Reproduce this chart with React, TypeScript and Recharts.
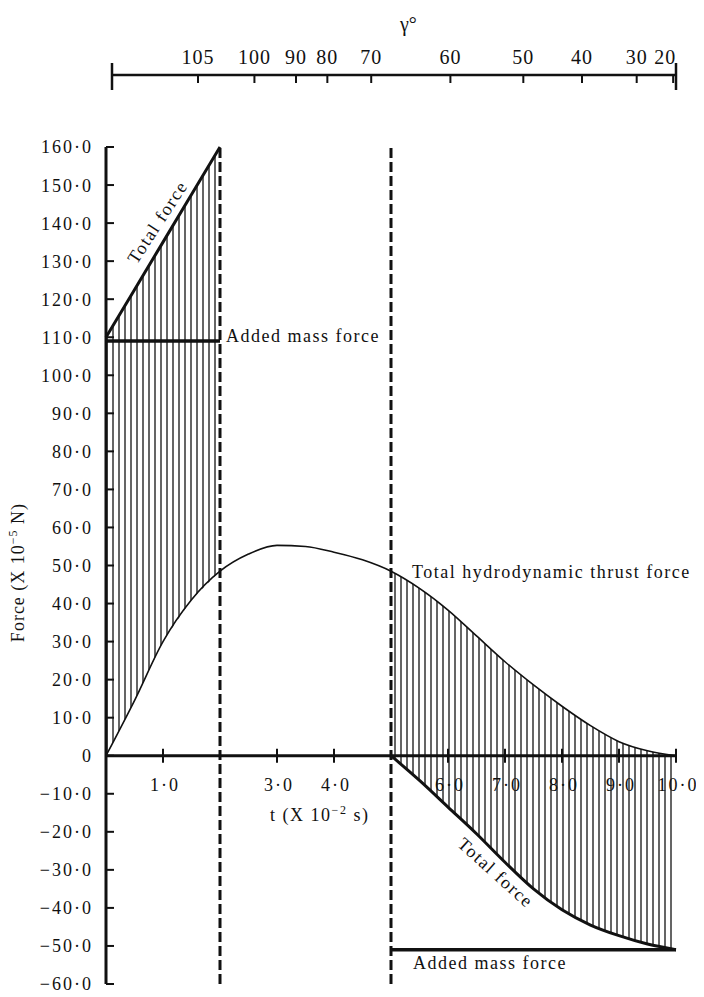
import React from "react";
import {
  ComposedChart,
  LineChart,
  Line,
  Area,
  XAxis,
  YAxis,
  ReferenceLine,
  ReferenceDot,
} from "recharts";

const FONT = "'Liberation Serif', 'Times New Roman', serif";
const INK = "#111";

// t (x 10^-2 s)
const tValues = [0, 0.5, 1, 1.5, 2, 2.5, 3, 3.5, 4, 4.5, 5, 5.5, 6, 6.5, 7, 7.5, 8, 8.5, 9, 9.5, 10];
const thrustForce = [0, 14.5, 30, 41, 48.5, 53, 55.3, 55, 53.5, 51.5, 48.5, 44, 38.3, 31.5, 24.7, 18.6, 13, 7.9, 3.7, 1.3, 0];

// opening phase (0 - 2)
const openT = [0, 0.5, 1, 1.5, 2];
const openTotal = [110, 122.5, 135, 147.5, 160];
const openAdded = [109, 109, 109, 109, 109];

// closing phase (5 - 10)
const closeT = [5, 5.5, 6, 6.5, 7, 7.5, 8, 8.5, 9, 9.5, 10];
const closeTotal = [0, -6.5, -13.5, -20.5, -28, -35, -40.5, -44.5, -47.3, -49.5, -51];
const closeAdded = [-51, -51, -51, -51, -51, -51, -51, -51, -51, -51, -51];

const xTicks = [1, 3, 4, 6, 7, 8, 9, 10];
const yTicks = [-60, -50, -40, -30, -20, -10, 0, 10, 20, 30, 40, 50, 60, 70, 80, 90, 100, 110, 120, 130, 140, 150, 160];

// top scale: angle gamma vs t (end markers carry no label)
const gammaT = [0.1, 1.61, 2.6, 3.33, 3.88, 4.65, 6.04, 7.32, 8.35, 9.31, 9.95, 10];
const gammaLabels = ["", "105", "100", "90", "80", "70", "60", "50", "40", "30", "20", ""];

const rows = tValues.map((t, i) => {
  const o = openT.indexOf(t);
  const c = closeT.indexOf(t);
  return {
    t,
    thrust: thrustForce[i],
    totalOpen: o >= 0 ? openTotal[o] : null,
    addedOpen: o >= 0 ? openAdded[o] : null,
    bandOpen: o >= 0 ? [thrustForce[i], openTotal[o]] : null,
    totalClose: c >= 0 ? closeTotal[c] : null,
    addedClose: c >= 0 ? closeAdded[c] : null,
    bandClose: c >= 0 ? [closeTotal[c], thrustForce[i]] : null,
  };
});
const gammaRows = gammaT.map((t) => ({ t }));

const W = 688;
const TOP_H = 100;
const M_TOP = 39;
const X_AXIS_H = 4;
const M_BOTTOM = 8;
const MAIN_H = 888;
const M_RIGHT = 20;
const Y_AXIS_W = 98;
const Y_MIN = -60;
const Y_MAX = 160;
const PLOT_H = MAIN_H - M_TOP - X_AXIS_H - M_BOTTOM;
const ZERO_SHIFT = (PLOT_H * (0 - Y_MIN)) / (Y_MAX - Y_MIN);

const fmtY = (v: number) => (v === 0 ? "0" : `${v < 0 ? "\u2212" : ""}${Math.abs(v)}\u00b70`);
const fmtX = (v: number) => v.toFixed(1).replace(".", "\u00b7");

const YTick = (props: any) => {
  const { x, y, payload } = props;
  return (
    <g>
      <line x1={x} x2={x + 8} y1={y} y2={y} stroke={INK} strokeWidth={2} />
      <text x={x - 13} y={y} dy="0.36em" textAnchor="end" fontFamily={FONT} fontSize={18} letterSpacing={2} fill={INK}>
        {fmtY(payload.value)}
      </text>
    </g>
  );
};

const XTick = (props: any) => {
  const { x, y, payload } = props;
  const y0 = y - ZERO_SHIFT;
  return (
    <g>
      <line x1={x} x2={x} y1={y0 - 7} y2={y0 + 7} stroke={INK} strokeWidth={2} />
      <text x={x + 2} y={y0 + 35} textAnchor="middle" fontFamily={FONT} fontSize={18} letterSpacing={2} fill={INK}>
        {fmtX(payload.value)}
      </text>
    </g>
  );
};

const GammaTick = (props: any) => {
  const { x, y, payload } = props;
  const label = gammaLabels[gammaT.indexOf(payload.value)];
  if (!label) {
    return <line x1={x} x2={x} y1={y - 12} y2={y + 15} stroke={INK} strokeWidth={2.5} />;
  }
  // the last label sits a little left of its tick, clear of the end bar
  const shift = label === "20" ? -8 : 0;
  return (
    <g>
      <line x1={x} x2={x} y1={y} y2={y + 8} stroke={INK} strokeWidth={2} />
      <text x={x + shift} y={y - 11} textAnchor="middle" fontFamily={FONT} fontSize={20} letterSpacing={1} fill={INK}>
        {label}
      </text>
    </g>
  );
};

const YLabel = ({ viewBox }: any) => {
  const x = viewBox.x + 10;
  const y = viewBox.y + viewBox.height / 2 + 7;
  return (
    <text x={x} y={y} dy="0.35em" textAnchor="middle" transform={`rotate(-90 ${x} ${y})`} fontFamily={FONT} fontSize={18} letterSpacing={1} fill={INK}>
      Force (X 10<tspan dy="-7" fontSize="12">{"\u22125"}</tspan>
      <tspan dy="7"> N)</tspan>
    </text>
  );
};

const GammaLabel = ({ viewBox }: any) => (
  <text x={viewBox.x + 288} y={viewBox.y - 14} fontFamily={FONT} fontSize={20} fill={INK}>
    γ°
  </text>
);

const note =
  (content: React.ReactNode, dx: number, dy: number, anchor = "start", angle = 0) =>
  ({ viewBox }: any) => {
    const x = viewBox.x + dx;
    const y = viewBox.y + dy;
    return (
      <text
        x={x}
        y={y}
        dy="0.35em"
        textAnchor={anchor}
        transform={angle ? `rotate(${angle} ${x} ${y})` : undefined}
        fontFamily={FONT}
        fontSize={18}
        letterSpacing={1.5}
        fill={INK}
      >
        {content}
      </text>
    );
  };

export default function App() {
  return (
    <div style={{ width: W, fontFamily: FONT }}>
      <style>{`body{margin-bottom:0}.recharts-wrapper{overflow:visible !important}.recharts-surface{overflow:visible !important}`}</style>
      <LineChart width={W} height={TOP_H} data={gammaRows} margin={{ top: 37, right: M_RIGHT, bottom: 8, left: Y_AXIS_W + 6 }}>
        <XAxis
          dataKey="t"
          type="number"
          orientation="top"
          domain={[0.1, 10]}
          ticks={gammaT}
          interval={0}
          height={30}
          axisLine={{ stroke: INK, strokeWidth: 2.5 }}
          tickLine={false}
          tickSize={0}
          tickMargin={0}
          tick={<GammaTick />}
          label={{ content: GammaLabel }}
        />
        <YAxis hide domain={[0, 1]} />
      </LineChart>

      <ComposedChart width={W} height={MAIN_H} data={rows} margin={{ top: M_TOP, right: M_RIGHT, bottom: M_BOTTOM, left: 0 }}>
        <defs>
          <pattern id="vhatch" width={6} height={8} patternUnits="userSpaceOnUse">
            <line x1={3} y1={0} x2={3} y2={8} stroke={INK} strokeWidth={1.3} />
          </pattern>
        </defs>
        <XAxis
          dataKey="t"
          type="number"
          domain={[0, 10]}
          ticks={xTicks}
          interval={0}
          height={X_AXIS_H}
          axisLine={false}
          tickLine={false}
          tickSize={0}
          tickMargin={0}
          tick={<XTick />}
        />
        <YAxis
          type="number"
          domain={[Y_MIN, Y_MAX]}
          ticks={yTicks}
          interval={0}
          width={Y_AXIS_W}
          axisLine={{ stroke: INK, strokeWidth: 3 }}
          tickLine={false}
          tickSize={0}
          tickMargin={0}
          tick={<YTick />}
          label={{ content: YLabel }}
        />
        <Area dataKey="bandOpen" type="linear" fill="url(#vhatch)" fillOpacity={1} stroke="none" isAnimationActive={false} />
        <Area dataKey="bandClose" type="monotone" fill="url(#vhatch)" fillOpacity={1} stroke="none" isAnimationActive={false} />
        <ReferenceLine y={0} stroke={INK} strokeWidth={3} />
        <ReferenceLine x={2} stroke={INK} strokeWidth={3} strokeDasharray="10 4" />
        <ReferenceLine x={5} stroke={INK} strokeWidth={3} strokeDasharray="10 4" />
        <Line dataKey="thrust" type="monotone" stroke={INK} strokeWidth={1.6} dot={false} isAnimationActive={false} />
        <Line dataKey="totalOpen" type="linear" stroke={INK} strokeWidth={3} dot={false} isAnimationActive={false} />
        <Line dataKey="addedOpen" type="linear" stroke={INK} strokeWidth={3.5} dot={false} isAnimationActive={false} />
        <Line dataKey="totalClose" type="monotone" stroke={INK} strokeWidth={3} dot={false} isAnimationActive={false} />
        <Line dataKey="addedClose" type="linear" stroke={INK} strokeWidth={3.5} dot={false} isAnimationActive={false} />

        <ReferenceDot x={0.9} y={140.3} r={0} fill="none" stroke="none" label={note("Total force", 0, 0, "middle", -57)} />
        <ReferenceDot x={2} y={109} r={0} fill="none" stroke="none" label={note("Added mass force", 6, -5)} />
        <ReferenceDot x={5} y={48.5} r={0} fill="none" stroke="none" label={note("Total hydrodynamic thrust force", 21, 0)} />
        <ReferenceDot
          x={3.75}
          y={-15.5}
          r={0}
          fill="none"
          stroke="none"
          label={note(
            <>
              t (X 10<tspan dy="-7" fontSize="12">{"\u22122"}</tspan>
              <tspan dy="7"> s)</tspan>
            </>,
            0,
            0,
            "middle"
          )}
        />
        <ReferenceDot x={6.84} y={-30.7} r={0} fill="none" stroke="none" label={note("Total force", 0, 0, "middle", 42)} />
        <ReferenceDot x={5} y={-51} r={0} fill="none" stroke="none" label={note("Added mass force", 22, 13)} />
      </ComposedChart>
    </div>
  );
}
